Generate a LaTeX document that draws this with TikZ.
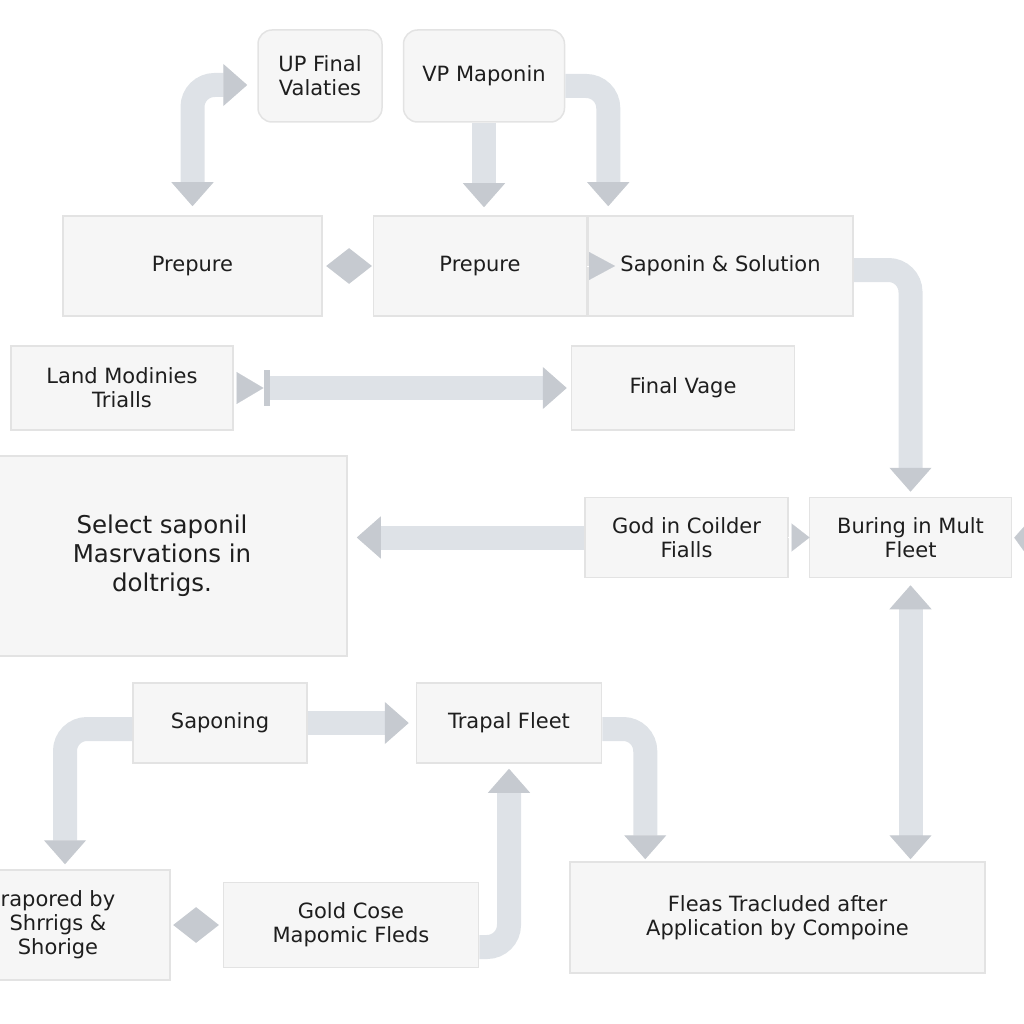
\documentclass[tikz,border=0pt]{standalone}
\usepackage{fontspec}
\setmainfont{DejaVu Sans}
\usetikzlibrary{arrows.meta,positioning,shapes.geometric}
\definecolor{boxfill}{HTML}{F6F6F6}
\definecolor{boxline}{HTML}{E3E3E3}
\definecolor{barfill}{HTML}{DEE2E7}
\definecolor{tipfill}{HTML}{C6CAD0}
\definecolor{txt}{HTML}{1E1E1E}

\begin{document}
\begin{tikzpicture}[x=1pt,y=-1pt,semithick,
  >={Triangle[width=42pt,length=24pt,line width=1pt,color=tipfill,fill=tipfill]},
  box/.style={rectangle,draw=boxline,fill=boxfill,line width=1.5pt,align=center,text=txt,inner sep=2pt,font=\fontsize{21}{24}\selectfont},
  rbox/.style={box,rounded corners=14pt},
  fat/.style={->,line width=24pt,draw=barfill,rounded corners=22pt},
  both/.style={fat,<->},
  tiponly/.style={draw=white,line width=.1pt},
  diam/.style={diamond,fill=tipfill,inner sep=0pt,minimum width=46pt,minimum height=36pt}]
  \useasboundingbox (0,0) rectangle (1024,1024);

  \node[rbox,minimum width=124pt,minimum height=92pt] (up) at (320,76) {UP Final\\Valaties};
  \node[rbox,minimum width=161pt,minimum height=92pt] (vp) [right=20pt of up] {VP Maponin};

  \node[box,minimum width=259pt,minimum height=100pt] (prep1) at (192.5,266) {Prepure};
  \node[box,minimum width=213pt,minimum height=100pt] (prep2) [right=50pt of prep1] {Prepure};
  \node[box,minimum width=265pt,minimum height=100pt] (sap)   [right=0pt of prep2] {Saponin \& Solution};
  \node[diam] (dia1) [right=3pt of prep1] {};

  \node[box,minimum width=222pt,minimum height=84pt] (land)  at (122,388) {Land Modinies\\Trialls};
  \node[box,minimum width=223pt,minimum height=84pt] (final) [right=337pt of land] {Final Vage};

  \node[box,minimum width=370pt,minimum height=200pt,font=\fontsize{24.5}{29}\selectfont] (sel) at (162,556) {Select saponil\\Masrvations in\\doltrigs.};
  \node[box,minimum width=203pt,minimum height=80pt] (god) at (686.5,537.5) {God in Coilder\\Fialls};
  \node[box,minimum width=202pt,minimum height=80pt] (bur) [right=20pt of god] {Buring in Mult\\Fleet};
  \coordinate (offr) at (1060,540);

  \node[box,minimum width=174pt,minimum height=80pt] (sapg) at (220,723) {Saponing};
  \node[box,minimum width=185pt,minimum height=80pt] (trap) [right=108pt of sapg] {Trapal Fleet};

  \node[box,minimum width=224pt,minimum height=110pt] (rap) at (58,925) {rapored by\\Shrrigs \&\\Shorige};
  \node[box,minimum width=255pt,minimum height=85pt] (gold) [right=52pt of rap] {Gold Cose\\Mapomic Fleds};
  \node[diam] (dia2) [right=2pt of rap] {};
  \node[box,minimum width=415pt,minimum height=111pt] (fleas) at (777.5,917.5) {Fleas Tracluded after\\Application by Compoine};

  \draw[both,shorten <=9pt,shorten >=10pt] (prep1.north) |- ([yshift=-9pt]up.west);
  \draw[fat,shorten >=8pt] (vp.south) -- (vp.south |- prep2.north);
  \draw[fat,shorten >=9pt] ([yshift=-10pt]vp.east) -| ([xshift=21pt]sap.north west);
  \draw[fat,shorten >=5pt] ([yshift=-4pt]sap.east) -| (bur.north);
  \draw[tiponly,-{Triangle[width=28pt,length=26pt,color=tipfill,fill=tipfill]},shorten <=106.5pt,shorten >=105.5pt] (prep2.center) -- (sap.center);

  \draw[tiponly,-{Triangle[width=32pt,length=27pt,color=tipfill,fill=tipfill]},shorten <=112pt,shorten >=419.5pt] (land.center) -- (final.center);
  \draw[fat,{Rectangle[length=6pt,width=36pt,color=tipfill,fill=tipfill]}->,shorten <=30pt,shorten >=4pt] (land.east) -- (final.west);

  \draw[fat,shorten >=9pt] (god.west) -- (god.west -| sel.east);
  \draw[tiponly,-{Triangle[width=28pt,length=18pt,color=tipfill,fill=tipfill]},shorten <=101.5pt,shorten >=101pt] (god.center) -- (bur.center);
  \draw[tiponly,-{Triangle[width=50pt,length=20pt,color=tipfill,fill=tipfill]},shorten >=2pt] (offr) -- (bur.east);
  \draw[both,shorten <=7pt,shorten >=2pt] (bur.south) -- (bur.south |- fleas.north);

  \draw[fat,shorten >=7pt] (sapg.east) -- (trap.west);
  \draw[fat,shorten >=5pt] ([yshift=-6pt]sapg.west) -| ([xshift=7pt]rap.north);
  \draw[fat,shorten >=5pt] ([yshift=-22pt]gold.east) -| (trap.south);
  \draw[fat,shorten >=2pt] ([yshift=-6pt]trap.east) -| ([xshift=76pt]fleas.north west);
\end{tikzpicture}
\end{document}
